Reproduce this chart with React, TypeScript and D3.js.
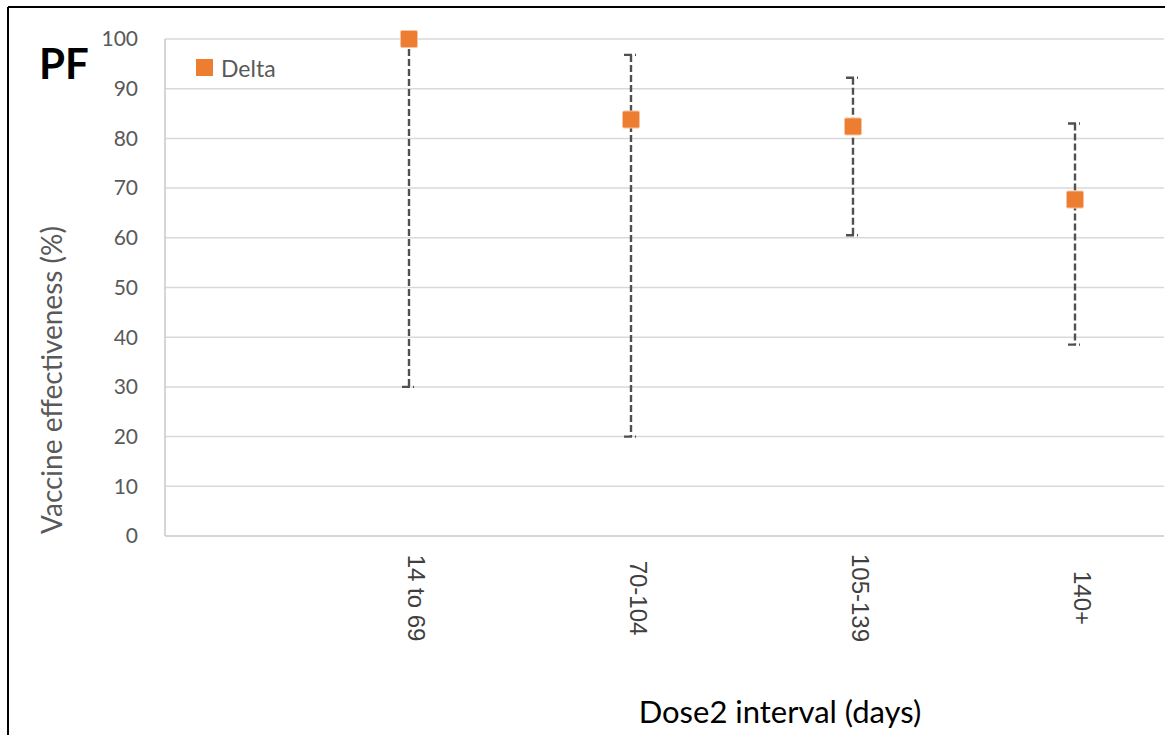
import React from 'react';
import * as d3 from 'd3';

// Dose2 interval categories and Delta vaccine effectiveness (%)
const categories = ['14 to 69', '70-104', '105-139', '140+'];
const deltaVE = [100, 83.8, 82.4, 67.7];
const lowerCI = [30, 20, 60.5, 38.5];
const upperCI = [100, 96.8, 92.2, 83];
const yTicks = [0, 10, 20, 30, 40, 50, 60, 70, 80, 90, 100];

export default function App() {
  const width = 1165;
  const height = 735;
  const plotLeft = 165;
  const plotRight = 1164;
  const plotTop = 39;
  const plotBottom = 536;

  const x = d3.scalePoint<string>().domain(categories).range([409, 1075]);
  const y = d3.scaleLinear().domain([0, 100]).range([plotBottom, plotTop]);

  const gray = '#595959';
  const font = 'Lato, "Open Sans", sans-serif';
  const orange = '#ED7D31';
  const boxSize = 17;

  return (
    <svg
      width={width}
      height={height}
      style={{ position: 'absolute', left: 0, top: 0, background: '#fff' }}
    >
      {/* frame (cropped on right/bottom) */}
      <line x1={8} x2={width} y1={7} y2={7} stroke="#000" strokeWidth={2} />
      <line x1={8} x2={8} y1={7} y2={height} stroke="#000" strokeWidth={2} />

      {/* grid */}
      {yTicks.map(t => (
        <line
          key={t}
          x1={plotLeft}
          x2={plotRight}
          y1={y(t)}
          y2={y(t)}
          stroke={t === 0 ? '#C8C8C8' : '#D9D9D9'}
          strokeWidth={1.5}
        />
      ))}
      <line x1={plotLeft} x2={plotLeft} y1={plotTop} y2={plotBottom} stroke="#C8C8C8" strokeWidth={1.5} />

      {/* y tick labels */}
      {yTicks.map(t => (
        <text
          key={t}
          x={138}
          y={y(t)}
          dy="0.35em"
          textAnchor="end"
          fontFamily={font}
          fontSize={21}
          fill={gray}
        >
          {t}
        </text>
      ))}

      {/* y axis title */}
      <text
        transform={`translate(62,380) rotate(-90)`}
        textAnchor="middle"
        fontFamily={font}
        fontSize={28}
        fill={gray}
      >
        Vaccine effectiveness (%)
      </text>

      {/* x tick labels, rotated */}
      {categories.map(c => (
        <text
          key={c}
          transform={`translate(${(x(c) as number) - 1},598) rotate(90)`}
          textAnchor="middle"
          fontFamily='"Liberation Sans", Arial, sans-serif'
          fontSize={24}
          fill="#404040"
        >
          {c}
        </text>
      ))}

      {/* x axis title */}
      <text x={780} y={723} textAnchor="middle" fontFamily={font} fontSize={31} fill="#000">
        Dose2 interval (days)
      </text>

      {/* error bars */}
      {categories.map((c, i) => {
        const cx = x(c) as number;
        return (
          <g key={c} stroke="#505050" strokeWidth={2.4} fill="none">
            <line x1={cx} x2={cx} y1={y(upperCI[i])} y2={y(lowerCI[i])} strokeDasharray="7,3" />
            <line x1={cx - 7} x2={cx + 5} y1={y(upperCI[i])} y2={y(upperCI[i])} strokeDasharray="8,3" />
            <line x1={cx - 7} x2={cx + 5} y1={y(lowerCI[i])} y2={y(lowerCI[i])} strokeDasharray="8,3" />
          </g>
        );
      })}

      {/* markers */}
      {categories.map((c, i) => (
        <rect
          key={c}
          x={(x(c) as number) - boxSize / 2}
          y={y(deltaVE[i]) - boxSize / 2}
          width={boxSize}
          height={boxSize}
          rx={1.5}
          fill={orange}
          stroke="#F6C3A0"
          strokeWidth={1}
        />
      ))}

      {/* legend */}
      <rect x={196} y={59} width={17} height={17} fill={orange} />
      <text x={221} y={77} fontFamily={font} fontSize={23} fill={gray}>
        Delta
      </text>

      {/* panel label */}
      <text x={39} y={79} fontFamily={font} fontWeight="bold" fontSize={42} fill="#000">
        PF
      </text>
    </svg>
  );
}
